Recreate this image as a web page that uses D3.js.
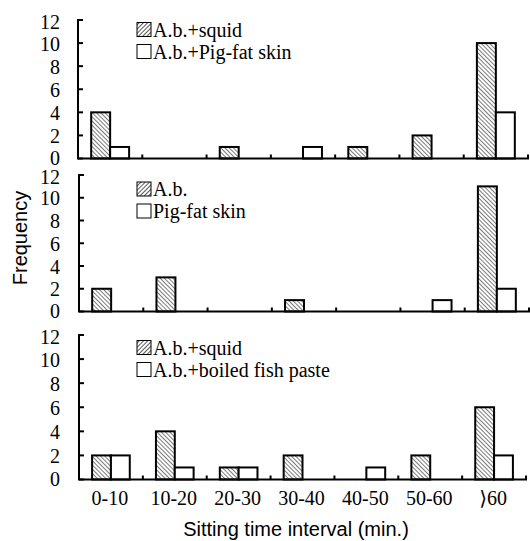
<!DOCTYPE html>
<html lang="en">
<head>
<meta charset="UTF-8">
<title>Sitting time frequency</title>
<script src="https://d3js.org/d3.v7.min.js"></script>
<style>
  body { margin: 0; background: #fff; }
  svg { display: block; }
</style>
</head>
<body>
<svg id="chart" width="530" height="541"></svg>
<script>
const categories = ["0-10", "10-20", "20-30", "30-40", "40-50", "50-60", "\u27E960"];
const yTicks = [0, 2, 4, 6, 8, 10, 12];

const squid1 = [4, 0, 1, 0, 1, 2, 10];
const pigFatSkin1 = [1, 0, 0, 1, 0, 0, 4];
const ab2 = [2, 3, 0, 1, 0, 0, 11];
const pigFatSkin2 = [0, 0, 0, 0, 0, 1, 2];
const squid3 = [2, 4, 1, 2, 0, 2, 6];
const fishPaste3 = [2, 1, 1, 0, 1, 0, 2];

const serif = "'Liberation Serif', 'Times New Roman', 'DejaVu Serif', serif";
const sans = "'Liberation Sans', Arial, 'DejaVu Sans', sans-serif";

const panels = [
  { series: [squid1, pigFatSkin1], names: ["A.b.+squid", "A.b.+Pig-fat skin"],
    x0: 78, x1: 528, yTop: 20, yBot: 158.5, legY: 22.5 },
  { series: [ab2, pigFatSkin2], names: ["A.b.", "Pig-fat skin"],
    x0: 79, x1: 529, yTop: 175, yBot: 311.5, legY: 182 },
  { series: [squid3, fishPaste3], names: ["A.b.+squid", "A.b.+boiled fish paste"],
    x0: 79, x1: 526, yTop: 335, yBot: 479.5, legY: 340.5 }
];

const svg = d3.select("#chart");

// hatch patterns: bars use "\\\" lines, legend swatch uses "///"
const defs = svg.append("defs");
defs.append("pattern")
  .attr("id", "hatchBar")
  .attr("patternUnits", "userSpaceOnUse")
  .attr("width", 3).attr("height", 3)
  .attr("patternTransform", "rotate(-45)")
  .append("line")
  .attr("x1", 0).attr("y1", 0).attr("x2", 0).attr("y2", 3)
  .attr("stroke", "#333").attr("stroke-width", 1.3);
defs.append("pattern")
  .attr("id", "hatchLeg")
  .attr("patternUnits", "userSpaceOnUse")
  .attr("width", 3).attr("height", 3)
  .attr("patternTransform", "rotate(45)")
  .append("line")
  .attr("x1", 0).attr("y1", 0).attr("x2", 0).attr("y2", 3)
  .attr("stroke", "#222").attr("stroke-width", 1.5);

const fills = ["url(#hatchBar)", "#fff"];
const legFills = ["url(#hatchLeg)", "#fff"];

panels.forEach((p, pi) => {
  const g = svg.append("g");
  const x = d3.scaleBand().domain(categories).range([p.x0, p.x1]).padding(0);
  const y = d3.scaleLinear().domain([0, 12]).range([p.yBot, p.yTop]);
  const bw = x.bandwidth();
  const barW = bw * 0.295;

  // bars
  p.series.forEach((vals, si) => {
    g.selectAll(null)
      .data(vals.map((v, i) => ({ cat: categories[i], v })).filter(d => d.v > 0))
      .enter().append("rect")
      .attr("x", d => x(d.cat) + bw / 2 - barW + si * barW)
      .attr("y", d => y(d.v))
      .attr("width", barW)
      .attr("height", d => y(0) - y(d.v))
      .attr("fill", fills[si])
      .attr("stroke", "#000")
      .attr("stroke-width", 2);
  });

  // y axis line + inward ticks
  g.append("line")
    .attr("x1", p.x0).attr("x2", p.x0)
    .attr("y1", y(12) - 1).attr("y2", y(0))
    .attr("stroke", "#000").attr("stroke-width", 2);
  g.selectAll(null).data(yTicks).enter().append("line")
    .attr("x1", p.x0).attr("x2", p.x0 + 5)
    .attr("y1", d => y(d)).attr("y2", d => y(d))
    .attr("stroke", "#000").attr("stroke-width", 2);
  // nudge the outer labels so stacked panels don't collide
  g.selectAll(null).data(yTicks).enter().append("text")
    .attr("font-family", serif).attr("font-size", 20)
    .attr("x", 60).attr("y", d => y(d) + (d === 12 ? 1.5 : d === 0 ? -1 : 0))
    .attr("dy", "0.38em")
    .attr("text-anchor", "end")
    .text(d => d);

  // x axis line + upward ticks at band edges
  g.append("line")
    .attr("x1", p.x0 - 1).attr("x2", p.x1 + 1)
    .attr("y1", y(0)).attr("y2", y(0))
    .attr("stroke", "#000").attr("stroke-width", 2.2);
  g.selectAll(null).data(categories.slice(1).map(c => x(c)).concat([p.x1]))
    .enter().append("line")
    .attr("x1", d => d).attr("x2", d => d)
    .attr("y1", y(0)).attr("y2", y(0) - 4)
    .attr("stroke", "#000").attr("stroke-width", 2);

  if (pi === 2) {
    g.selectAll(null).data(categories).enter().append("text")
      .attr("font-family", serif).attr("font-size", 20)
      .attr("x", d => x(d) + bw / 2 - 1)
      .attr("y", 505)
      .attr("text-anchor", "middle")
      .text(d => d);
  }

  // legend
  p.names.forEach((name, li) => {
    const ly = p.legY + li * 22;
    g.append("rect")
      .attr("x", 137).attr("y", ly)
      .attr("width", 14).attr("height", 14)
      .attr("fill", legFills[li])
      .attr("stroke", "#000").attr("stroke-width", 1);
    g.append("text")
      .attr("font-family", serif).attr("font-size", 20)
      .attr("x", 153).attr("y", ly + 14)
      .text(name);
  });
});

// axis titles
svg.append("text")
  .attr("font-family", sans).attr("font-size", 20)
  .attr("transform", "translate(27,238) rotate(-90)")
  .attr("text-anchor", "middle")
  .text("Frequency");

svg.append("text")
  .attr("font-family", sans).attr("font-size", 20)
  .attr("x", 296).attr("y", 536)
  .attr("text-anchor", "middle")
  .text("Sitting time interval (min.)");
</script>
</body>
</html>
